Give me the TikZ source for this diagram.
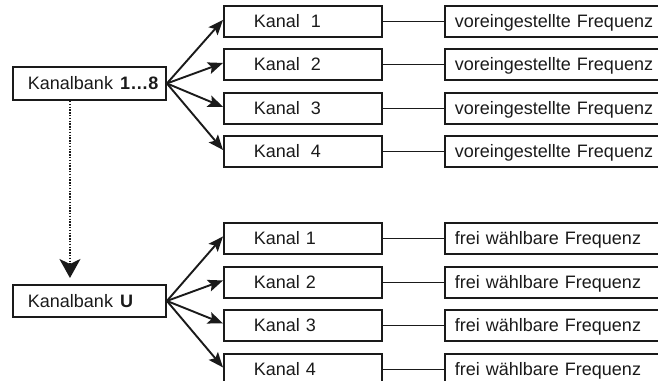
\documentclass[tikz,border=0pt]{standalone}
\usepackage{fontspec}
\setmainfont{Liberation Sans}
\usetikzlibrary{arrows.meta,calc}
\definecolor{ink}{HTML}{1A1A1A}
\begin{document}
\begin{tikzpicture}[x=1pt,y=-1pt,
  font=\fontsize{18}{20}\selectfont,
  every node/.style={text=ink},
  box/.style={draw=ink, line width=1.9pt, anchor=north west, inner ysep=0pt,
    minimum height=31pt, text height=12.8pt, text depth=0pt, align=left},
  kanalbox/.style={box, inner xsep=30pt, text width=98pt},
  freqbox/.style={box, inner xsep=10pt, text width=210pt},
  bankbox/.style={box, inner xsep=15pt, text width=123pt, minimum height=33pt},
  link/.style={draw=ink, line width=1.9pt},
  arr/.style={draw=ink, line width=1.9pt, -{Stealth[length=15pt,width=12pt,inset=3pt]}},
  dotarr/.style={draw=ink, line width=2pt, dash pattern=on 1.4pt off 1.4pt, -{Stealth[length=19pt,width=21pt,inset=5pt]}}
]
\useasboundingbox (0,0) rectangle (658,380);
\clip (0,0) rectangle (658,380);

% top group
\node[bankbox] (kb) at (12,66) {\mbox{Kanalbank\hspace{0.4em}\textbf{1…8}}};
\node[kanalbox] (k1) at (223,5) {Kanal\hspace{0.6em}1};
\node[kanalbox] (k2) at (223,48) {Kanal\hspace{0.6em}2};
\node[kanalbox] (k3) at (223,92) {Kanal\hspace{0.6em}3};
\node[kanalbox] (k4) at (223,135) {Kanal\hspace{0.6em}4};
\node[freqbox] (f1) at (444,5) {voreingestellte Frequenz};
\node[freqbox] (f2) at (444,48) {voreingestellte Frequenz};
\node[freqbox] (f3) at (444,92) {voreingestellte Frequenz};
\node[freqbox] (f4) at (444,135) {voreingestellte Frequenz};

% bottom group
\node[bankbox, minimum height=32pt] (ku) at (12,284) {\mbox{Kanalbank\hspace{0.4em}\textbf{U}}};
\node[kanalbox] (u1) at (223,222) {Kanal 1};
\node[kanalbox] (u2) at (223,266) {Kanal 2};
\node[kanalbox] (u3) at (223,309) {Kanal 3};
\node[kanalbox] (u4) at (223,353) {Kanal 4};
\node[freqbox] (g1) at (444,222) {frei wählbare Frequenz};
\node[freqbox] (g2) at (444,266) {frei wählbare Frequenz};
\node[freqbox] (g3) at (444,309) {frei wählbare Frequenz};
\node[freqbox] (g4) at (444,353) {frei wählbare Frequenz};

% connectors
\foreach \k in {1,2,3,4}{
  \draw[arr] (kb.east) -- ([yshift=1.5pt]k\k.west);
  \draw[link] (k\k.east) -- (f\k.west);
  \draw[arr] (ku.east) -- ([yshift=2pt]u\k.west);
  \draw[link] (u\k.east) -- (g\k.west);
}
\draw[dotarr, shorten >=6pt] ([xshift=-19.5pt]kb.south) -- ([xshift=-19.5pt]ku.north);
\end{tikzpicture}
\end{document}
